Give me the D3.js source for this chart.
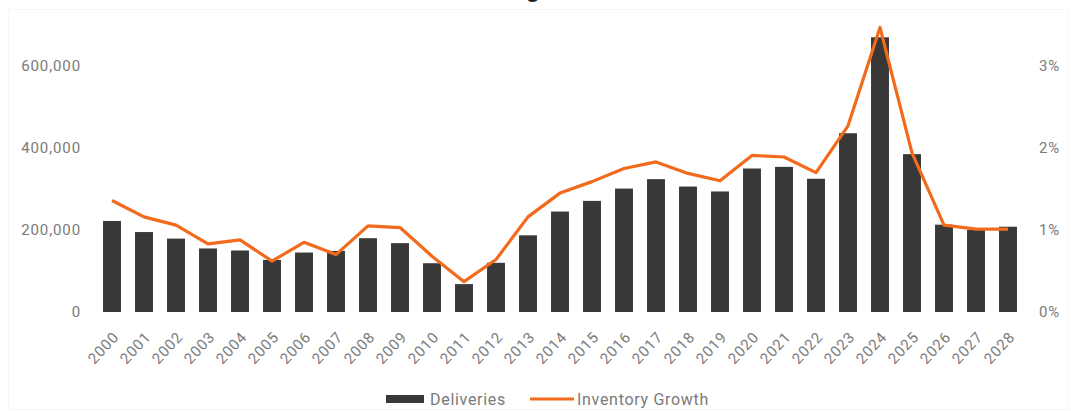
<!DOCTYPE html>
<html><head><meta charset="utf-8">
<script src="https://cdn.jsdelivr.net/npm/d3@7"></script>
<style>body{margin:0;background:#fff;}svg{display:block;font-family:Roboto, sans-serif;}</style>
</head><body><svg id="c" width="1071" height="411"></svg>
<script>
const years = ["2000","2001","2002","2003","2004","2005","2006","2007","2008","2009","2010","2011","2012","2013","2014","2015","2016","2017","2018","2019","2020","2021","2022","2023","2024","2025","2026","2027","2028"];
const deliveries = [222000,195000,179000,155000,150000,127000,145000,149000,180000,168000,119000,68000,120000,187000,245000,271000,301000,324000,306000,294000,350000,354000,325000,436000,670000,385000,213000,200000,208000];
const inventoryGrowth = [1.36,1.16,1.06,0.83,0.88,0.62,0.85,0.70,1.05,1.03,0.68,0.37,0.64,1.16,1.45,1.59,1.75,1.83,1.69,1.60,1.91,1.89,1.70,2.27,3.47,1.94,1.06,1.01,1.01];
const leftTicks = [0,200000,400000,600000];
const rightTicks = [0,1,2,3];
const titleText = "g";

const svg = d3.select("#c");
const x = d3.scaleBand().domain(years).range([96,1024]).paddingInner(0.44).paddingOuter(0.22);
const yL = d3.scaleLinear().domain([0,600000]).range([312,66]);
const yR = d3.scaleLinear().domain([0,3]).range([312,66]);

svg.append("rect").attr("x",8.5).attr("y",9.5).attr("width",1060).attr("height",400).attr("fill","none").attr("stroke","#f6f6f6");
svg.append("text").attr("x",533).attr("y",-3).attr("text-anchor","middle").attr("font-size",24).attr("font-weight","bold").attr("fill","#222").text(titleText);

svg.append("g").selectAll("rect").data(years).join("rect")
  .attr("x",d=>x(d)).attr("width",x.bandwidth())
  .attr("y",(d,i)=>yL(deliveries[i])).attr("height",(d,i)=>yL(0)-yL(deliveries[i]))
  .attr("fill","#383838");

const line = d3.line().x((d,i)=>x(years[i])+x.bandwidth()/2).y(d=>yR(d));
svg.append("path").datum(inventoryGrowth).attr("d",line).attr("fill","none").attr("stroke","#f26a1b").attr("stroke-width",3.2).attr("stroke-linejoin","round");

const gL = svg.append("g").attr("transform","translate(81,0)")
  .call(d3.axisLeft(yL).tickValues(leftTicks).tickFormat(d3.format(",")).tickSize(0).tickPadding(0));
const gR = svg.append("g").attr("transform","translate(1039,0)")
  .call(d3.axisRight(yR).tickValues(rightTicks).tickFormat(d=>d+"%").tickSize(0).tickPadding(0));
const gX = svg.append("g").attr("transform","translate(0,326)")
  .call(d3.axisBottom(x).tickSize(0).tickPadding(0));
[gL,gR,gX].forEach(g=>{g.select(".domain").remove();g.selectAll("text").attr("fill","#7a7a7a").attr("font-size",15).attr("letter-spacing","0.9px").attr("font-family","Roboto, sans-serif");});
gX.selectAll("text").attr("text-anchor","end").attr("dy","0.35em").attr("transform","translate(4,8) rotate(-47)");

const lg = svg.append("g");
lg.append("rect").attr("x",386).attr("y",395).attr("width",38).attr("height",8).attr("fill","#383838");
lg.append("text").attr("x",430).attr("y",405).attr("font-size",16).attr("letter-spacing","0.7px").attr("fill","#7a7a7a").text("Deliveries");
lg.append("line").attr("x1",530).attr("x2",574).attr("y1",399).attr("y2",399).attr("stroke","#f26a1b").attr("stroke-width",3.2);
lg.append("text").attr("x",577).attr("y",405).attr("font-size",16).attr("letter-spacing","0.7px").attr("fill","#7a7a7a").text("Inventory Growth");
</script></body></html>
